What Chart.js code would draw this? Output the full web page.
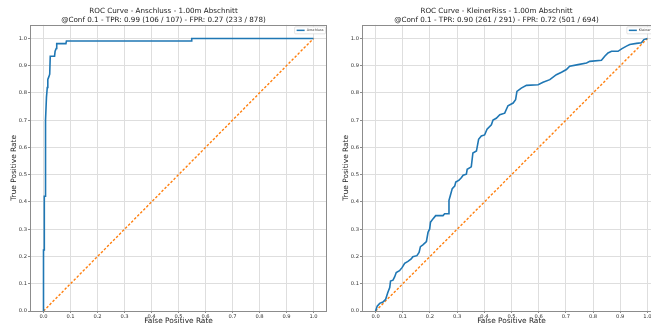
<!DOCTYPE html>
<html>
<head>
<meta charset="utf-8">
<script src="https://cdn.jsdelivr.net/npm/chart.js@4.4.1/dist/chart.umd.min.js"></script>
<style>
html, body { margin: 0; padding: 0; background: #fff; overflow: hidden; width: 651px; height: 327px; }
canvas { position: absolute; top: 0; }
#anschluss { left: 0; }
#kleinerriss { left: 332px; }
</style>
</head>
<body>
<canvas id="anschluss" width="340" height="327"></canvas>
<canvas id="kleinerriss" width="342" height="327"></canvas>
<script>
// courbe ROC Anschluss
var fprAnschluss = [0, 0, 0.003, 0.003, 0.006, 0.006, 0.009, 0.011, 0.014, 0.016, 0.02, 0.023, 0.025, 0.041, 0.043, 0.047, 0.049, 0.083, 0.085, 0.548, 0.549, 1.0];
var tprAnschluss = [0, 0.224, 0.224, 0.421, 0.421, 0.5, 0.7, 0.785, 0.82, 0.85, 0.86, 0.869, 0.935, 0.935, 0.953, 0.963, 0.981, 0.981, 0.991, 0.991, 1.0, 1.0];

// courbe ROC KleinerRiss
var fprKleinerRiss = [0, 0.006, 0.015, 0.027, 0.037, 0.045, 0.052, 0.055, 0.064, 0.07, 0.076, 0.088, 0.098, 0.107, 0.119, 0.131, 0.137, 0.152, 0.16, 0.165, 0.174, 0.187, 0.193, 0.199, 0.202, 0.211, 0.221, 0.248, 0.254, 0.269, 0.27, 0.275, 0.282, 0.291, 0.295, 0.307, 0.316, 0.322, 0.334, 0.337, 0.352, 0.358, 0.371, 0.379, 0.389, 0.401, 0.41, 0.426, 0.432, 0.444, 0.457, 0.475, 0.487, 0.506, 0.515, 0.52, 0.536, 0.555, 0.598, 0.616, 0.641, 0.665, 0.684, 0.702, 0.714, 0.745, 0.776, 0.788, 0.831, 0.843, 0.855, 0.868, 0.892, 0.905, 0.923, 0.935, 0.96, 0.978, 0.987, 1.0];
var tprKleinerRiss = [0, 0.018, 0.028, 0.033, 0.043, 0.068, 0.086, 0.11, 0.113, 0.125, 0.141, 0.148, 0.16, 0.175, 0.182, 0.191, 0.199, 0.203, 0.215, 0.236, 0.243, 0.255, 0.289, 0.301, 0.326, 0.338, 0.35, 0.35, 0.357, 0.357, 0.406, 0.424, 0.449, 0.458, 0.473, 0.48, 0.49, 0.498, 0.502, 0.52, 0.529, 0.58, 0.587, 0.63, 0.642, 0.646, 0.667, 0.683, 0.701, 0.707, 0.72, 0.726, 0.753, 0.763, 0.775, 0.806, 0.818, 0.828, 0.83, 0.839, 0.849, 0.867, 0.876, 0.886, 0.898, 0.904, 0.91, 0.916, 0.92, 0.935, 0.947, 0.953, 0.953, 0.962, 0.972, 0.978, 0.982, 0.984, 0.996, 1.0];

// diagonale (hasard)
var diagX = [0, 1];
var diagY = [0, 1];

// graduations des axes
var graduations = [0, 0.1, 0.2, 0.3, 0.4, 0.5, 0.6, 0.7, 0.8, 0.9, 1.0];

Chart.defaults.font.family = "'DejaVu Sans', sans-serif";
Chart.defaults.animation = false;

function points(xs, ys) {
  return xs.map(function (x, i) { return { x: x, y: ys[i] }; });
}

// cadre autour de la zone + legende en haut a droite
var cadre = {
  id: 'cadre',
  afterDatasetsDraw: function (chart) {
    var a = chart.chartArea;
    var ctx = chart.ctx;
    ctx.save();
    ctx.strokeStyle = '#8c8c8c';
    ctx.lineWidth = 1;
    ctx.strokeRect(Math.round(a.left) + 0.5, Math.round(a.top) + 0.5, Math.round(a.right - a.left) - 1, Math.round(a.bottom - a.top));

    var ds = chart.data.datasets[0];
    ctx.font = '3.4px DejaVu Sans';
    var w = ctx.measureText(ds.label).width + 14;
    var x0 = a.right - 1.5 - w, y0 = a.top + 2;
    ctx.fillStyle = 'rgba(255,255,255,0.9)';
    ctx.strokeStyle = '#d0d0d0';
    ctx.lineWidth = 0.6;
    ctx.beginPath();
    ctx.roundRect(x0, y0, w, 7, 1);
    ctx.fill();
    ctx.stroke();
    ctx.strokeStyle = ds.borderColor;
    ctx.lineWidth = 1.5;
    ctx.beginPath();
    ctx.moveTo(x0 + 2, y0 + 3.5);
    ctx.lineTo(x0 + 10, y0 + 3.5);
    ctx.stroke();
    ctx.fillStyle = '#333';
    ctx.textBaseline = 'middle';
    ctx.fillText(ds.label, x0 + 12, y0 + 3.7);
    ctx.restore();
  }
};

function rocConfig(nom, fpr, tpr, ligne2) {
  return {
    type: 'scatter',
    data: {
      datasets: [{
        label: nom,
        data: points(fpr, tpr),
        showLine: true,
        borderColor: '#1f77b4',
        borderWidth: 1.6,
        pointRadius: 0,
        tension: 0
      }, {
        label: 'diag',
        data: points(diagX, diagY),
        showLine: true,
        borderColor: '#ff7f0e',
        borderWidth: 1.4,
        borderDash: [2.5, 1.8],
        pointRadius: 0
      }]
    },
    options: {
      responsive: false,
      layout: { padding: { left: 0, right: 13, top: 0, bottom: 0 } },
      plugins: {
        legend: { display: false },
        tooltip: { enabled: false },
        title: {
          display: true,
          text: ['ROC Curve - ' + nom + ' - 1.00m Abschnitt', ligne2],
          color: '#222',
          font: { size: 7.2, weight: 'normal', lineHeight: 1.17 },
          padding: { top: 7, bottom: 1 }
        }
      },
      scales: {
        x: {
          type: 'linear', min: -0.05, max: 1.05,
          afterBuildTicks: function (s) { s.ticks = graduations.map(function (v) { return { value: v }; }); },
          afterFit: function (s) { s.height = 16; },
          ticks: { font: { size: 5.2 }, color: '#333', padding: 1, maxRotation: 0, callback: function (v) { return v.toFixed(1); } },
          grid: { color: '#dedede', lineWidth: 1, tickLength: 2, tickColor: '#8c8c8c' },
          border: { display: false },
          title: { display: true, text: 'False Positive Rate', color: '#222', font: { size: 7.4 }, padding: { top: 0, bottom: 1 } }
        },
        y: {
          type: 'linear', min: 0, max: 1.05,
          afterBuildTicks: function (s) { s.ticks = graduations.map(function (v) { return { value: v }; }); },
          afterFit: function (s) { s.width = 30; },
          ticks: { font: { size: 5.2 }, color: '#333', padding: 1, callback: function (v) { return v.toFixed(1); } },
          grid: { color: '#dedede', lineWidth: 1, tickLength: 2, tickColor: '#8c8c8c' },
          border: { display: false },
          title: { display: true, text: 'True Positive Rate', color: '#222', font: { size: 7.4 }, padding: { top: 10, bottom: 0 } }
        }
      }
    },
    plugins: [cadre]
  };
}

var graphAnschluss = new Chart('anschluss', rocConfig('Anschluss', fprAnschluss, tprAnschluss,
  '@Conf 0.1 - TPR: 0.99 (106 / 107) - FPR: 0.27 (233 / 878)'));

var graphKleinerRiss = new Chart('kleinerriss', rocConfig('KleinerRiss', fprKleinerRiss, tprKleinerRiss,
  '@Conf 0.1 - TPR: 0.90 (261 / 291) - FPR: 0.72 (501 / 694)'));
</script>
</body>
</html>
